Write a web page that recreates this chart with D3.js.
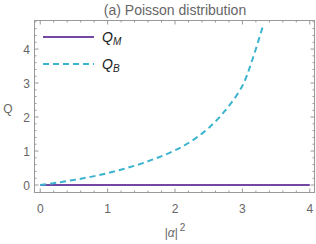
<!DOCTYPE html>
<html>
<head>
<meta charset="utf-8">
<script src="https://cdn.jsdelivr.net/npm/d3@7"></script>
<style>
  body { margin: 0; background: #fff; }
  text { font-family: "Liberation Sans", Arial, sans-serif; fill: #666; }
</style>
</head>
<body>
<div id="chart"></div>
<script>
// data
const title = "(a) Poisson distribution";
const xTicks = [0, 1, 2, 3, 4];
const yTicks = [0, 1, 2, 3, 4];
const qmX = [0, 4];
const qmY = [0, 0];
const qbX = [0, 0.25, 0.5, 0.75, 1, 1.25, 1.5, 1.75, 2, 2.25, 2.5, 2.75, 3, 3.15, 3.3];
const qbY = [0, 0.07, 0.15, 0.24, 0.35, 0.48, 0.63, 0.81, 1.02, 1.3, 1.68, 2.2, 2.92, 3.7, 4.65];

const width = 316, height = 244;
const margin = {left: 34.5, right: 1.5, top: 20.5, bottom: 51.5};
const purple = "#7447a3", cyan = "#3cb4cf", axisColor = "#999";

const svg = d3.select('#chart')
  .append('svg')
  .attr('width', width)
  .attr('height', height);

const x = d3.scaleLinear().domain([-0.085, 4.07]).range([margin.left, width - margin.right]);
const y = d3.scaleLinear().domain([-0.22, 4.84]).range([height - margin.bottom, margin.top]);

// frame
svg.append('rect')
  .attr('x', margin.left).attr('y', margin.top)
  .attr('width', width - margin.left - margin.right)
  .attr('height', height - margin.top - margin.bottom)
  .attr('fill', 'none').attr('stroke', axisColor).attr('stroke-width', 1);

// ticks (inward, major + minor) on all four sides
const minorX = d3.range(0, 4.01, 0.2);
const minorY = d3.range(0, 4.81, 0.2);
const tickG = svg.append('g').attr('stroke', axisColor).attr('stroke-width', 1);
minorX.forEach(v => {
  const major = Math.abs(v - Math.round(v)) < 1e-6;
  const len = major ? 4 : 2;
  tickG.append('line').attr('x1', x(v)).attr('x2', x(v))
    .attr('y1', y.range()[0]).attr('y2', y.range()[0] - len);
  tickG.append('line').attr('x1', x(v)).attr('x2', x(v))
    .attr('y1', y.range()[1]).attr('y2', y.range()[1] + len);
});
minorY.forEach(v => {
  const major = Math.abs(v - Math.round(v)) < 1e-6;
  const len = major ? 4 : 2;
  tickG.append('line').attr('y1', y(v)).attr('y2', y(v))
    .attr('x1', x.range()[0]).attr('x2', x.range()[0] + len);
  tickG.append('line').attr('y1', y(v)).attr('y2', y(v))
    .attr('x1', x.range()[1]).attr('x2', x.range()[1] - len);
});

// tick labels
svg.selectAll('.xlab').data(xTicks).join('text')
  .attr('class', 'xlab')
  .attr('x', d => x(d)).attr('y', 213)
  .attr('text-anchor', 'middle').style('font-size', '12px')
  .text(d => d);
svg.selectAll('.ylab').data(yTicks).join('text')
  .attr('class', 'ylab')
  .attr('x', 30).attr('y', d => y(d) + 4.5)
  .attr('text-anchor', 'end').style('font-size', '12px')
  .text(d => d);

// axis labels and title
svg.append('text').attr('x', 8).attr('y', 113)
  .attr('text-anchor', 'middle').style('font-size', '12px').text('Q');
const xl = svg.append('text').attr('x', 175).attr('y', 237)
  .attr('text-anchor', 'middle').style('font-size', '12px');
xl.append('tspan').text('|');
xl.append('tspan').style('font-style', 'italic').text('α');
xl.append('tspan').text('|');
xl.append('tspan').attr('dy', -6).attr('dx', 2).style('font-size', '10px').text('2');
svg.append('text').attr('x', 175).attr('y', 15)
  .attr('text-anchor', 'middle').style('font-size', '14px').text(title);

// curves
const line = d3.line().x(d => x(d[0])).y(d => y(d[1])).curve(d3.curveCatmullRom);
svg.append('path')
  .datum(qmX.map((v, i) => [v, qmY[i]]))
  .attr('d', line).attr('fill', 'none')
  .attr('stroke', purple).attr('stroke-width', 2);
svg.append('path')
  .datum(qbX.map((v, i) => [v, qbY[i]]))
  .attr('d', line).attr('fill', 'none')
  .attr('stroke', cyan).attr('stroke-width', 2)
  .attr('stroke-dasharray', '6,4');

// legend
const legend = [
  {sub: 'M', color: purple, dash: null, y: 37},
  {sub: 'B', color: cyan, dash: '6,4', y: 64}
];
legend.forEach(l => {
  svg.append('line').attr('x1', 43).attr('x2', 94).attr('y1', l.y).attr('y2', l.y)
    .attr('stroke', l.color).attr('stroke-width', 2)
    .attr('stroke-dasharray', l.dash);
  const t = svg.append('text').attr('x', 102).attr('y', l.y + 5)
    .style('font-size', '14px').style('font-style', 'italic').style('fill', '#222');
  t.append('tspan').text('Q');
  t.append('tspan').attr('dy', 3).style('font-size', '10px').text(l.sub);
});
</script>
</body>
</html>
